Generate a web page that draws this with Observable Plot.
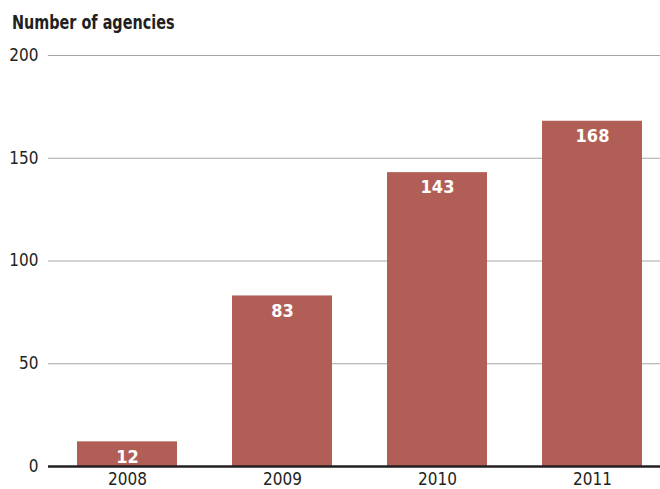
<!DOCTYPE html>
<html>
<head>
<meta charset="utf-8">
<script src="https://cdn.jsdelivr.net/npm/d3@7"></script>
<script src="https://cdn.jsdelivr.net/npm/@observablehq/plot@0.6"></script>
<style>
  body { margin: 0; background: #fff; }
  #chart { width: 660px; height: 489px; position: relative; font-family: "DejaVu Sans Condensed", "Roboto", sans-serif; }
  #title { position: absolute; left: 12px; top: 10px; font-size: 20px; font-weight: bold; color: #231f20; transform: scaleX(0.8); transform-origin: left top; white-space: nowrap; }
  #plot { position: absolute; left: 0; top: 40px; }
</style>
</head>
<body>
<div id="chart">
  <div id="title">Number of agencies</div>
  <div id="plot"></div>
</div>
<script>
const years = ["2008", "2009", "2010", "2011"];
const agencies = [12, 83, 143, 168];
const yTicks = [0, 50, 100, 150, 200];

const data = years.map((y, i) => ({year: y, value: agencies[i]}));
const font = '"DejaVu Sans Condensed", "Roboto", sans-serif';

const chart = Plot.plot({
  width: 660,
  height: 449,
  marginTop: 15,
  marginBottom: 23,
  marginLeft: 48,
  marginRight: 0,
  style: {fontFamily: font, fontSize: "17px", color: "#231f20", background: "white"},
  x: {domain: years, paddingInner: 0.358, paddingOuter: 0.145, align: 0.62, label: null},
  y: {domain: [0, 200], label: null},
  marks: [
    Plot.ruleY(yTicks.filter(d => d > 0), {stroke: "#a6a6a6", strokeWidth: 1.2}),
    Plot.barY(data, {x: "year", y: "value", fill: "#b15f56"}),
    Plot.text(data, {x: "year", y: "value", text: d => String(d.value), dy: 15, fill: "white", fontWeight: "bold", fontSize: 18}),
    Plot.ruleY([0], {stroke: "#231f20", strokeWidth: 2.5}),
    Plot.axisX({tickSize: 0, tickPadding: 6, fontSize: 17, label: null}),
    Plot.axisY({ticks: yTicks, tickSize: 0, tickPadding: 10, fontSize: 17, label: null, tickFormat: d => String(d)})
  ]
});
document.getElementById("plot").appendChild(chart);
</script>
</body>
</html>
